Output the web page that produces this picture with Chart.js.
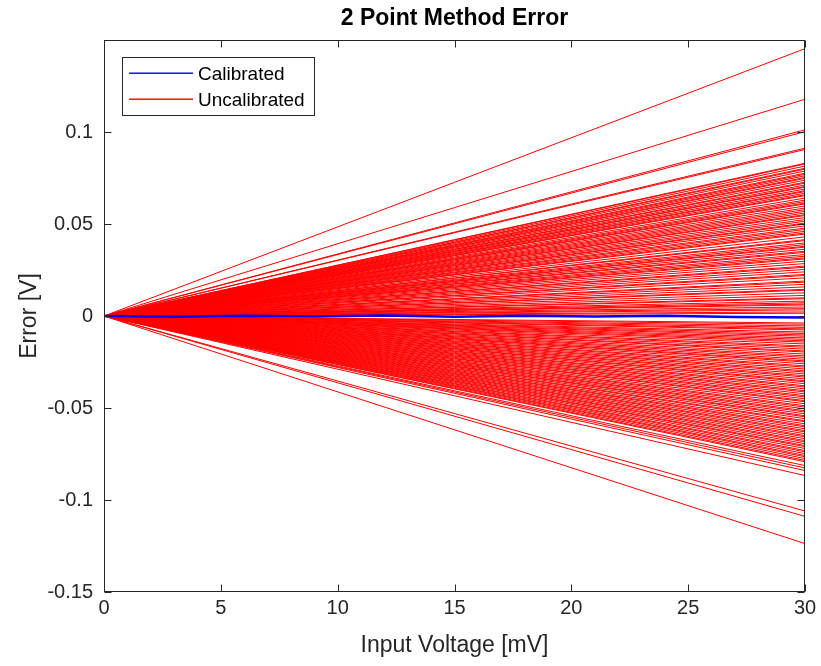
<!DOCTYPE html>
<html><head><meta charset="utf-8">
<script src="https://cdn.jsdelivr.net/npm/chart.js@4"></script>
<style>html,body{margin:0;padding:0;background:#fff}#wrap{width:821px;height:666px}</style>
</head><body><div id="wrap"><canvas id="c" width="821" height="666"></canvas></div>
<script>
const chartTitle = '2 Point Method Error';
const xLabel = 'Input Voltage [mV]';
const yLabel = 'Error [V]';
const legendLabels = ['Calibrated', 'Uncalibrated'];
const xTicks = [0, 5, 10, 15, 20, 25, 30];
const yTicks = [-0.15, -0.1, -0.05, 0, 0.05, 0.1];
const redX = [0, 30];
const blueX = [0, 3, 6, 9, 12, 15, 18, 21, 24, 27, 30];
const blueY = [0, -0.0004, 0.0002, -0.0003, 0.0003, -0.0004, 0.0002, -0.0003, 0.0001, -0.0006, -0.0008];
const redEnd = [
  0.1453, 0.1178, 0.1012, 0.1002, 0.0912, 0.0905, 0.0830, 0.0826, 0.0815, 0.0803, 0.0798,
  0.0788, 0.0776, 0.0770, 0.0762, 0.0753, 0.0748, 0.0738, 0.0727, 0.0722, 0.0712, 0.0704, 0.0700,
  0.0690, 0.0681, 0.0676, 0.0667, 0.0659, 0.0654, 0.0641, 0.0630, 0.0622, 0.0614, 0.0609, 0.0598,
  0.0587, 0.0578, 0.0569, 0.0560, 0.0551, 0.0546, 0.0535, 0.0524, 0.0515, 0.0505, 0.0500, 0.0490,
  0.0478, 0.0470, 0.0460, 0.0451, 0.0445, 0.0430, 0.0415, 0.0410, 0.0397, 0.0388, 0.0379,
  0.0374, 0.0363, 0.0352, 0.0346, 0.0334, 0.0325, 0.0316, 0.0310, 0.0298, 0.0285, 0.0271, 0.0265,
  0.0253, 0.0240, 0.0226, 0.0220, 0.0207, 0.0190, 0.0184, 0.0172, 0.0158, 0.0145, 0.0140, 0.0126,
  0.0112, 0.0099, 0.0094, 0.0081, 0.0072, 0.0065, 0.0060, 0.0049, 0.0040, 0.0033, 0.0022, 0.0015,
  -0.0038, -0.0045, -0.0054, -0.0062, -0.0070, -0.0076, -0.0087, -0.0095, -0.0103, -0.0110, -0.0119,
  -0.0127, -0.0135, -0.0142, -0.0152, -0.0163, -0.0170, -0.0180, -0.0190, -0.0196, -0.0207, -0.0217,
  -0.0225, -0.0235, -0.0244, -0.0250, -0.0260, -0.0271, -0.0278, -0.0288, -0.0298, -0.0305, -0.0315,
  -0.0325, -0.0332, -0.0342, -0.0352, -0.0358, -0.0368, -0.0379, -0.0386, -0.0396, -0.0406, -0.0413,
  -0.0423, -0.0433, -0.0440, -0.0450, -0.0460, -0.0466, -0.0477, -0.0488, -0.0495, -0.0505, -0.0515,
  -0.0522, -0.0532, -0.0542, -0.0548, -0.0558, -0.0569, -0.0575, -0.0586, -0.0596, -0.0603, -0.0613,
  -0.0623, -0.0630, -0.0640, -0.0650, -0.0657, -0.0667, -0.0677, -0.0684, -0.0694, -0.0704, -0.0710,
  -0.0720, -0.0731, -0.0738, -0.0748, -0.0758, -0.0765, -0.0775, -0.0785, -0.0792, -0.0813,
  -0.0826, -0.0840, -0.0867, -0.1060, -0.1089, -0.1237
];

const AX = '#262626';
const BLUE = 'rgb(0,0,255)';
const RED = 'rgb(255,0,0)';
const FONT = 'Liberation Sans, Arial, Helvetica, sans-serif';

const datasets = [{
  label: legendLabels[0],
  data: blueX.map((x, i) => ({x, y: blueY[i]})),
  borderColor: BLUE, borderWidth: 2.5, pointRadius: 0, fill: false
}];
redEnd.forEach((e, i) => {
  datasets.push({
    label: i === 0 ? legendLabels[1] : '',
    data: redX.map((x, k) => ({x, y: k === 0 ? 0 : e})),
    borderColor: RED, borderWidth: 1, pointRadius: 0, fill: false
  });
});

const frame = {
  id: 'frame',
  afterDatasetsDraw(chart) {
    const {ctx, chartArea: a, scales} = chart;
    ctx.save();
    ctx.setLineDash([]);
    ctx.globalAlpha = 1;
    ctx.strokeStyle = AX; ctx.lineWidth = 1;
    const L = Math.round(a.left) + 0.5, R = Math.round(a.right) - 0.5;
    const T = Math.round(a.top) + 0.5, B = Math.round(a.bottom) - 0.5;
    ctx.strokeRect(L, T, R - L, B - T);
    ctx.beginPath();
    xTicks.forEach(v => {
      const p = Math.round(scales.x.getPixelForValue(v)) + 0.5;
      ctx.moveTo(p, B); ctx.lineTo(p, B - 7);
      ctx.moveTo(p, T); ctx.lineTo(p, T + 7);
    });
    yTicks.forEach(v => {
      const p = Math.round(scales.y.getPixelForValue(v)) + 0.5;
      ctx.moveTo(L, p); ctx.lineTo(L + 7, p);
      ctx.moveTo(R, p); ctx.lineTo(R - 7, p);
    });
    ctx.stroke();
    // title
    ctx.fillStyle = '#000';
    ctx.font = 'bold 23px ' + FONT;
    ctx.textAlign = 'center'; ctx.textBaseline = 'middle';
    ctx.fillText(chartTitle, (a.left + a.right) / 2, 19);
    // legend box
    const lx = 122.5, ly = 57.5, lw = 192, lh = 58;
    ctx.fillStyle = '#fff';
    ctx.fillRect(lx, ly, lw, lh);
    ctx.strokeStyle = AX; ctx.lineWidth = 1;
    ctx.strokeRect(lx, ly, lw, lh);
    ctx.restore();
    // legend entries
    const cols = [BLUE, RED];
    legendLabels.forEach((lab, i) => {
      const y = 73 + i * 26;
      ctx.save();
      ctx.fillStyle = cols[i];
      ctx.fillRect(129, y - 0.5, 64, 1.4);
      ctx.fillStyle = '#000';
      ctx.font = '19px ' + FONT;
      ctx.textAlign = 'left'; ctx.textBaseline = 'middle';
      ctx.fillText(lab, 198, y + 1.5);
      ctx.restore();
    });
  }
};

new Chart(document.getElementById('c'), {
  type: 'line',
  data: {datasets},
  options: {
    responsive: false, animation: false, events: [],
    layout: {padding: {top: 40, right: 16, left: 0, bottom: 0}},
    plugins: {legend: {display: false}, title: {display: false}, tooltip: {enabled: false}},
    elements: {line: {tension: 0}},
    scales: {
      x: {
        type: 'linear', min: 0, max: 30,
        afterBuildTicks: s => { s.ticks = xTicks.map(v => ({value: v})); },
        afterFit: s => { s.height = 74; },
        ticks: {color: AX, font: {family: FONT, size: 20}, padding: 4, maxRotation: 0, autoSkip: false,
                callback: v => String(v)},
        grid: {display: false, drawTicks: false},
        border: {display: false},
        title: {display: true, text: xLabel, color: AX, font: {family: FONT, size: 23}, padding: {top: 0, bottom: 7}}
      },
      y: {
        type: 'linear', min: -0.15, max: 0.15,
        afterBuildTicks: s => { s.ticks = yTicks.map(v => ({value: v})); },
        afterFit: s => { s.width = 104; },
        ticks: {color: AX, font: {family: FONT, size: 20}, padding: 11, autoSkip: false,
                callback: v => String(v)},
        grid: {display: false, drawTicks: false},
        border: {display: false},
        title: {display: true, text: yLabel, color: AX, font: {family: FONT, size: 23}, padding: {top: 16, bottom: 0}}
      }
    }
  },
  plugins: [frame]
});
</script></body></html>
